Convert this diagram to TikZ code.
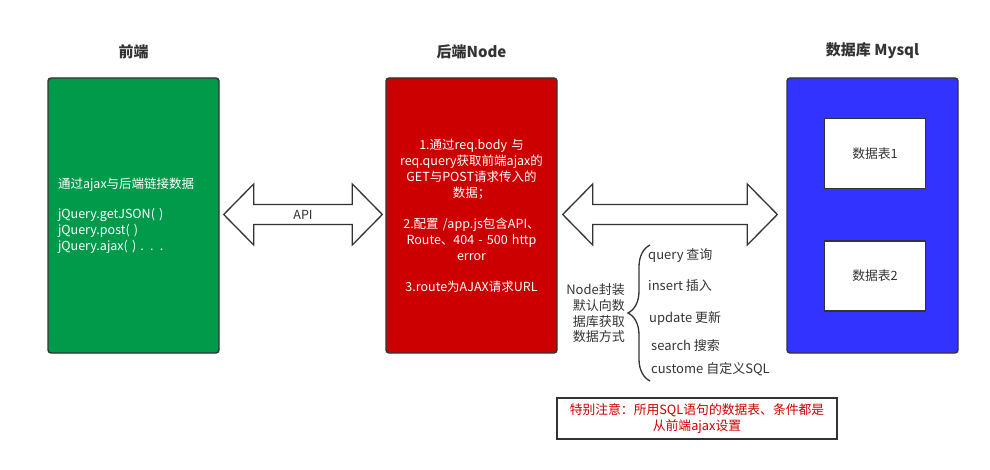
\documentclass[tikz,border=0pt]{standalone}
\usepackage{fontspec}
\setmainfont{Noto Sans CJK SC}
\usetikzlibrary{
	calc, positioning, decorations.pathreplacing
}
\definecolor{frontgreen}{RGB}{0,154,74}
\definecolor{backred}{RGB}{204,0,0}
\definecolor{dbblue}{RGB}{51,51,255}
\definecolor{edge}{RGB}{51,51,51}
\tikzset{
  tier/.style={
    rectangle,
    rounded corners=3pt,
    draw=edge,
    line width=1.4pt,
    minimum width=171pt,
    minimum height=275pt,
    text=white,
    font=\fontsize{12.5}{16}\selectfont},
  tiertitle/.style={
    font=\fontsize{15}{18}\selectfont\bfseries,
    text=edge},
  dbtable/.style={
    rectangle,
    fill=white,
    draw=edge,
    line width=1.4pt,
    minimum width=101pt,
    minimum height=70pt,
    text=edge,
    font=\fontsize{12.8}{16}\selectfont},
  blockarrow/.style={draw=edge, fill=white, line width=1.3pt},
  label/.style={text=edge, font=\fontsize{13}{16}\selectfont},
  item/.style={label, anchor=west, inner sep=0pt},
  decoration={brace, amplitude=22pt},
  tuborg/.style={decorate, draw=edge, line width=1.3pt},
  note/.style={
    rectangle,
    draw=edge,
    line width=1.6pt,
    minimum width=280pt,
    minimum height=41pt,
    text=backred,
    align=center,
    font=\fontsize{12.8}{16}\selectfont},
}
\newcommand{\blockarrow}[2]{%
  \draw[blockarrow] let \p1=(#1), \p2=(#2) in
    (\x1,\y1) -- ++(30pt,30.5pt) -- ++(0pt,-20.5pt) -- (\x2-30pt,\y1+10pt)
    -- ++(0pt,20.5pt) -- (\x2,\y1) -- ++(-30pt,-30.5pt) -- ++(0pt,20.5pt)
    -- (\x1+30pt,\y1-10pt) -- ++(0pt,-20.5pt) -- cycle;}

\begin{document}
\begin{tikzpicture}[x=1pt, y=-1pt]
	\useasboundingbox (0,0) rectangle (990,470);

	% three tiers
	\node [tier, fill=frontgreen, text width=151pt, inner xsep=10pt, align=left] (front) at (133.5,215.5)
		{通过ajax与后端链接数据\\[14pt]jQuery.getJSON( )\\jQuery.post( )\\jQuery.ajax( ) . . .};
	\node [tier, fill=backred, text width=161pt, inner xsep=5pt, align=center] (back) at (471.5,215.5)
		{1.通过req.body 与\\req.query获取前端ajax的\\GET与POST请求传入的\\数据；\\[15pt]2.配置 /app.js包含API、\\Route、404 - 500 http\\error\\[15pt]3.route为AJAX请求URL};
	\node [tier, fill=dbblue] (db) at (872.5,215.5) {};
	\node [dbtable] (tab1) at (875,153.5) {数据表1};
	\node [dbtable] (tab2) at (875,276) {数据表2};

	\node [tiertitle, above=15pt of front] (tfront) {前端};
	\node [tiertitle, above=15pt of back] (tback) {后端Node};
	\node [tiertitle, above=15pt of db] (tdb) {数据库 Mysql};

	% API arrows
	\coordinate (a1) at ($(front.east)+(4,-1)$);
	\coordinate (a2) at ($(back.west)+(-3,-1)$);
	\coordinate (a3) at ($(back.east)+(5,-1)$);
	\coordinate (a4) at ($(db.west)+(-9,-1)$);
	\blockarrow{a1}{a2}
	\blockarrow{a3}{a4}
	\node [label, font=\fontsize{12.5}{16}\selectfont] (api) at ($(a1)!0.5!(a2)$) {API};

	% default methods
	\node [label, anchor=east, inner sep=0pt, align=right, font=\fontsize{13}{15.7}\selectfont] (wrap) at (625,313.5)
		{Node封装\\默认向数\\据库获取\\数据方式};
	\coordinate (bt) at (650,245);
	\coordinate (bb) at (650,381);
	\draw [tuborg] (bb) -- (bt);
	\node [item] (query) at (648,256) {query 查询};
	\node [item] (insert) at (648,286) {insert 插入};
	\node [item] (update) at (649,319) {update 更新};
	\node [item] (search) at (651,346) {search 搜索};
	\node [item] (custom) at (651,369) {custome 自定义SQL};

	\node [note] (note) at (697,418.5)
		{特别注意：所用SQL语句的数据表、条件都是\\从前端ajax设置};
\end{tikzpicture}
\end{document}
